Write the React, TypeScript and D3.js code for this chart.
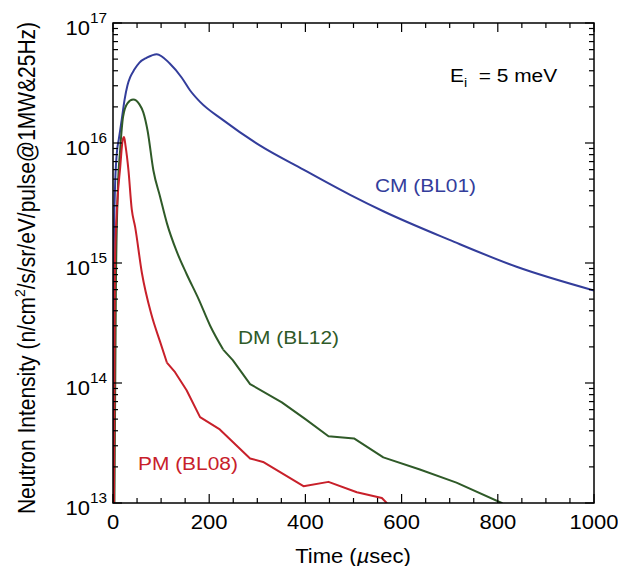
import React from 'react';
import * as d3 from 'd3';

// Time (µsec) and intensity for each moderator
const cmTime = [0, 1, 2, 4, 8, 12, 18, 24, 30, 36, 44, 55, 70, 91, 118, 143, 160, 181, 229, 306, 396, 493, 562, 701, 839, 1000];
const cmVal = [1e13, 4e14, 1.6e15, 4e15, 8.3e15, 1.07e16, 1.55e16, 2.29e16, 3.02e16, 3.55e16, 4.07e16, 4.68e16, 5.13e16, 5.5e16, 4.6e16, 3.5e16, 2.75e16, 2.2e16, 1.55e16, 9.5e15, 6.0e15, 3.7e15, 2.7e15, 1.55e15, 9.3e14, 5.9e14];

const dmTime = [3, 6, 10, 15, 21, 30, 42, 55, 63, 72, 84, 98, 112, 132, 153, 178, 202, 229, 249, 285, 351, 400, 448, 501, 562, 638, 714, 808, 830];
const dmVal = [1e13, 6.3e14, 4e15, 8.9e15, 1.66e16, 2.14e16, 2.3e16, 2.1e16, 1.8e16, 1.26e16, 5.9e15, 3.55e15, 2.15e15, 1.26e15, 8.1e14, 5.0e14, 3.0e14, 1.9e14, 1.55e14, 9.8e13, 6.9e13, 5.0e13, 3.6e13, 3.45e13, 2.4e13, 1.9e13, 1.48e13, 1e13, 8e12];

const pmTime = [2, 4, 9, 15, 20, 23, 26, 32, 39, 46, 60, 80, 98, 112, 129, 153, 181, 222, 285, 312, 396, 448, 507, 559, 569, 575];
const pmVal = [1e13, 1e15, 3.2e15, 6.3e15, 1.05e16, 1.12e16, 9.5e15, 6.0e15, 2.8e15, 2.0e15, 8.3e14, 3.7e14, 2.2e14, 1.48e14, 1.23e14, 8.7e13, 5.2e13, 4.1e13, 2.35e13, 2.2e13, 1.38e13, 1.5e13, 1.23e13, 1.1e13, 1e13, 8e12];

// after this time the published curves are drawn as straight segments
const smoothUntil = [1000, 229, 112];

const seriesNames = ['CM (BL01)', 'DM (BL12)', 'PM (BL08)'];
const seriesColors = ['#333d9b', '#2f5a28', '#c8202a'];

const xTickLabels = [0, 200, 400, 600, 800, 1000];
const yDecades = [13, 14, 15, 16, 17];

const W = 618;
const H = 566;
const left = 113, right = 594, top = 23, bottom = 503;
const SX = 1.1; // glyphs in the reference are a bit wide

export default function App() {
  const x = d3.scaleLinear().domain([0, 1000]).range([left, right]);
  const y = d3.scaleLog().domain([1e13, 1e17]).range([bottom, top]);

  const series = [
    { t: cmTime, v: cmVal },
    { t: dmTime, v: dmVal },
    { t: pmTime, v: pmVal },
  ];

  const smooth = d3.line<[number, number]>()
    .x(d => x(d[0]))
    .y(d => y(d[1]))
    .curve(d3.curveMonotoneX);
  const straight = d3.line<[number, number]>()
    .x(d => x(d[0]))
    .y(d => y(d[1]));

  const xMinor = d3.range(0, 1001, 50);
  const yMinor: number[] = [];
  for (let e = 13; e < 17; e++) for (let m = 1; m < 10; m++) yMinor.push(m * Math.pow(10, e));
  yMinor.push(1e17);

  const font = 'Liberation Sans, Arial, Helvetica, sans-serif';

  return (
    <svg width={W} height={H} style={{ position: 'absolute', left: 0, top: 0, background: '#fff' }} fontFamily={font}>
      <defs>
        <clipPath id="plot">
          <rect x={left} y={top} width={right - left} height={bottom - top} />
        </clipPath>
      </defs>

      {/* curves */}
      <g clipPath="url(#plot)" fill="none" strokeWidth={2} strokeLinejoin="round">
        {series.map((s, i) => {
          const pts = s.t.map((t, j) => [t, s.v[j]] as [number, number]);
          const a = pts.filter(p => p[0] <= smoothUntil[i]);
          const b = pts.filter(p => p[0] >= smoothUntil[i]);
          return (
            <g key={i} stroke={seriesColors[i]}>
              <path d={smooth(a) || ''} />
              {b.length > 1 && <path d={straight(b) || ''} />}
            </g>
          );
        })}
      </g>

      {/* ticks */}
      <g stroke="#000" strokeWidth={1.2}>
        {xMinor.map(t => {
          const len = t % 200 === 0 ? 9 : 5;
          return (
            <g key={'x' + t}>
              <line x1={x(t)} x2={x(t)} y1={bottom} y2={bottom - len} />
              <line x1={x(t)} x2={x(t)} y1={top} y2={top + len} />
            </g>
          );
        })}
        {yMinor.map((v, i) => {
          const major = Math.abs(Math.log10(v) - Math.round(Math.log10(v))) < 1e-9;
          const len = major ? 9 : 5;
          return (
            <g key={'y' + i}>
              <line x1={left} x2={left + len} y1={y(v)} y2={y(v)} />
              <line x1={right} x2={right - len} y1={y(v)} y2={y(v)} />
            </g>
          );
        })}
      </g>

      <rect x={left} y={top} width={right - left} height={bottom - top} fill="none" stroke="#000" strokeWidth={1.5} />

      {/* x tick labels */}
      {xTickLabels.map(t => (
        <text key={t} transform={`translate(${x(t)},${529}) scale(${SX},1)`} textAnchor="middle" fontSize={20}>{t}</text>
      ))}

      {/* y tick labels */}
      {yDecades.map(e => (
        <text key={e} transform={`translate(${left - 6},${y(Math.pow(10, e)) + 12}) scale(${SX},1)`} textAnchor="end" fontSize={20}>
          10<tspan fontSize={14} dy={-12}>{e}</tspan>
        </text>
      ))}

      {/* axis titles */}
      <text transform={`translate(${353},${563}) scale(${SX},1)`} textAnchor="middle" fontSize={20}>
        Time (<tspan fontStyle="italic">µ</tspan>sec)
      </text>
      <text transform={`translate(${35},${268}) rotate(-90) scale(1,${SX})`} textAnchor="middle" fontSize={21}>
        Neutron Intensity (n/cm<tspan fontSize={14} dy={-9}>2</tspan><tspan dy={9}>/s/sr/eV/pulse@1MW&amp;25Hz)</tspan>
      </text>

      {/* annotations */}
      <text transform={`translate(${450},${82}) scale(${SX},1)`} fontSize={19}>
        E<tspan fontSize={13} dy={5}>i</tspan><tspan dy={-5}>{'\u00a0 = 5 meV'}</tspan>
      </text>
      <text transform={`translate(${375},${192}) scale(${SX},1)`} fontSize={19} fill={seriesColors[0]}>{seriesNames[0]}</text>
      <text transform={`translate(${238},${344}) scale(${SX},1)`} fontSize={19} fill={seriesColors[1]}>{seriesNames[1]}</text>
      <text transform={`translate(${138},${470}) scale(${SX},1)`} fontSize={19} fill={seriesColors[2]}>{seriesNames[2]}</text>
    </svg>
  );
}
